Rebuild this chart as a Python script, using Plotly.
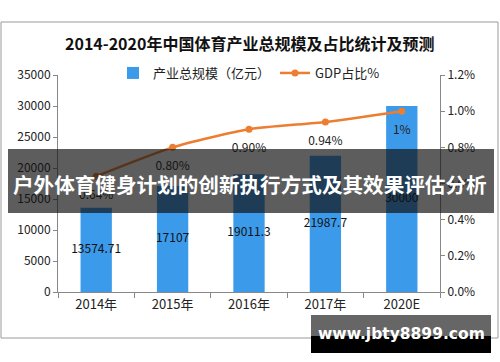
import plotly.graph_objects as go

# ---- data ----
categories = ["2014年", "2015年", "2016年", "2017年", "2020E"]
scale_values = [13574.71, 17107, 19011.3, 21987.7, 30000]
scale_labels = ["13574.71", "17107", "19011.3", "21987.7", "30000"]
gdp_share = [0.64, 0.80, 0.90, 0.94, 1.0]
gdp_labels = ["0.64%", "0.80%", "0.90%", "0.94%", "1%"]

title_text = "2014-2020年中国体育产业总规模及占比统计及预测"
banner_text = "户外体育健身计划的创新执行方式及其效果评估分析"
watermark_text = "www.jbty8899.com"

W, H = 500, 362
ML, MR, MT, MB = 58, 60, 75, 70
PW, PH = W - ML - MR, H - MT - MB


def px(x):
    return (x - ML) / PW


def py(y):
    return (H - MB - y) / PH


FONT = "Noto Sans CJK SC"
BLUE = "#3C9AEA"
ORANGE = "#ED7D31"

fig = go.Figure()

fig.add_trace(go.Bar(
    x=categories, y=scale_values, name="产业总规模（亿元）",
    marker=dict(color=BLUE, line=dict(width=0)), width=0.41,
    yaxis="y", hoverinfo="skip",
))

fig.add_trace(go.Scatter(
    x=categories, y=[v / 2 for v in scale_values], mode="text",
    text=scale_labels, textposition="middle center",
    textfont=dict(family=FONT, size=12, color="#111"),
    showlegend=False, yaxis="y", cliponaxis=False, hoverinfo="skip",
))

fig.add_trace(go.Scatter(
    x=categories, y=gdp_share, name="GDP占比%", mode="lines+markers",
    line=dict(color=ORANGE, width=2.5, shape="spline", smoothing=0.6),
    marker=dict(color=ORANGE, size=7), yaxis="y2", hoverinfo="skip",
))

fig.add_trace(go.Scatter(
    x=categories, y=gdp_share, mode="markers+text",
    marker=dict(size=20, color="rgba(0,0,0,0)"),
    text=gdp_labels, textposition="bottom center",
    textfont=dict(family=FONT, size=12, color="#222"),
    showlegend=False, yaxis="y2", cliponaxis=False, hoverinfo="skip",
))

shapes = [
    # chart frame
    dict(type="rect", xref="paper", yref="paper",
         x0=px(1), x1=px(498), y0=py(22), y1=py(338),
         line=dict(color="#9a9a9a", width=1), fillcolor="rgba(0,0,0,0)", layer="below"),
    # banner overlay
    dict(type="rect", xref="paper", yref="paper",
         x0=px(8), x1=px(494), y0=py(149), y1=py(213),
         line=dict(width=0), fillcolor="rgba(16,16,16,0.68)", layer="above"),
    # watermark box
    dict(type="rect", xref="paper", yref="paper",
         x0=px(311), x1=px(491), y0=py(315), y1=py(336),
         line=dict(width=0), fillcolor="#666666", layer="above"),
    dict(type="rect", xref="paper", yref="paper",
         x0=px(311), x1=px(491), y0=py(336), y1=py(353),
         line=dict(width=0), fillcolor="#000000", layer="above"),
]

annotations = [
    dict(text=title_text, xref="paper", yref="paper", x=px(249), y=py(43),
         showarrow=False, xanchor="center", yanchor="middle",
         font=dict(family=FONT, size=16, color="#111", weight="bold")),
    dict(text=banner_text, xref="paper", yref="paper", x=px(250), y=py(184),
         showarrow=False, xanchor="center", yanchor="middle",
         font=dict(family=FONT, size=20.6, color="#ffffff", weight="bold")),
    dict(text=watermark_text, xref="paper", yref="paper", x=px(401), y=py(334),
         showarrow=False, xanchor="center", yanchor="middle",
         font=dict(family="DejaVu Sans", size=15.5, color="#ffffff", weight="bold")),
]

fig.update_layout(
    width=W, height=H,
    margin=dict(l=ML, r=MR, t=MT, b=MB, pad=0),
    paper_bgcolor="white", plot_bgcolor="white",
    font=dict(family=FONT, size=12, color="#222"),
    showlegend=True,
    legend=dict(orientation="h", x=0.5, xanchor="center", y=py(73), yanchor="middle",
                font=dict(family=FONT, size=13, color="#222"),
                bgcolor="rgba(0,0,0,0)", itemwidth=30, tracegroupgap=0),
    bargap=0.59,
    xaxis=dict(type="category", showline=True, linecolor="#888", linewidth=1,
               ticks="outside", ticklen=5, tickcolor="#888", tickson="boundaries",
               tickfont=dict(family=FONT, size=13, color="#222"), showgrid=False,
               zeroline=False, fixedrange=True),
    yaxis=dict(range=[0, 35000], dtick=5000, showline=True, linecolor="#888",
               linewidth=1, ticks="outside", ticklen=4, tickcolor="#888",
               tickfont=dict(family=FONT, size=12, color="#222"), showgrid=False,
               zeroline=False, tickformat="d"),
    yaxis2=dict(range=[0, 1.2], dtick=0.2, overlaying="y", side="right",
                showline=True, linecolor="#888", linewidth=1, ticks="outside",
                ticklen=4, tickcolor="#888", tickformat=".1f", ticksuffix="%",
                tickfont=dict(family=FONT, size=12, color="#222"), showgrid=False,
                zeroline=False),
    shapes=shapes,
    annotations=annotations,
)

fig.write_html(
    "out.html",
    config={"displayModeBar": False, "staticPlot": True},
    post_script="document.body.style.margin='0';document.body.style.overflow='hidden';",
)
